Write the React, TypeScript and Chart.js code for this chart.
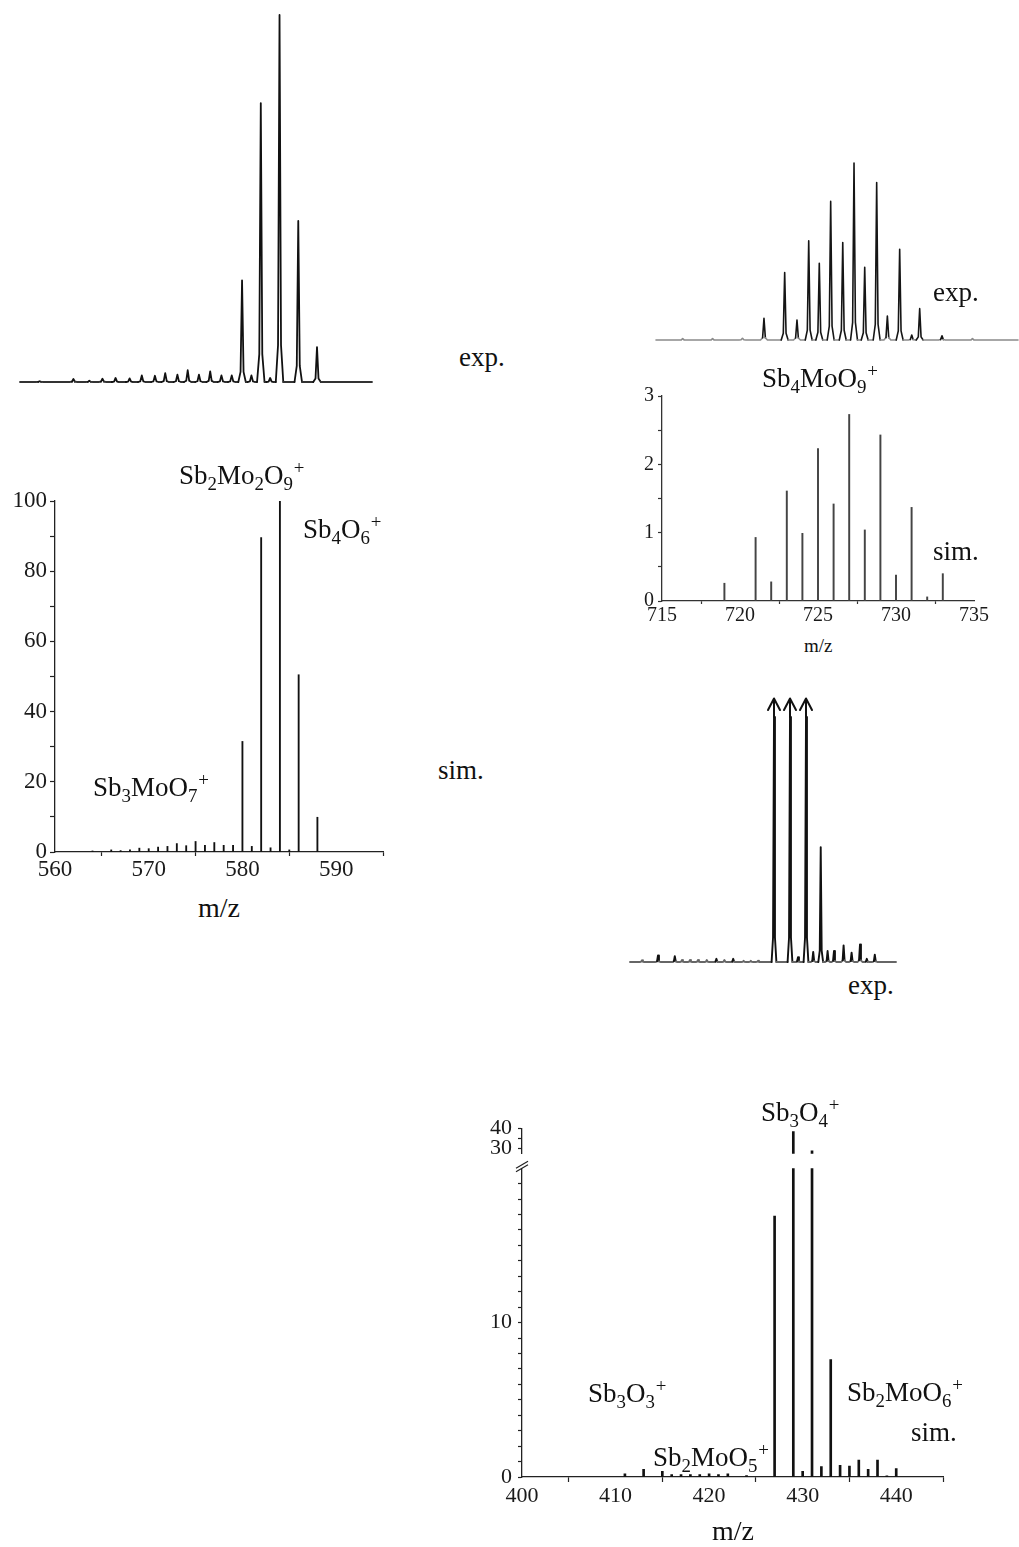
import React, { useEffect, useRef } from 'react';
import { Chart, registerables } from 'chart.js';

Chart.register(...registerables);

const SERIF = '"Liberation Serif", "Times New Roman", Times, serif';

// ---------------- DATA ----------------
// Experimental trace, 556–594 m/z region (relative intensity, %; 584 = 100)
const EXP_A_MZ = [558.4, 562.0, 563.7, 565.1, 566.5, 568.0, 569.3, 570.7, 571.8, 573.1, 574.2, 575.4, 576.6, 577.8, 578.9, 580.0, 581.0, 582.0, 583.0, 584.0, 586.0, 588.0];
const EXP_A_INT = [0.2, 0.8, 0.35, 0.9, 1.1, 1.0, 1.8, 1.7, 2.4, 2.0, 3.2, 2.0, 2.9, 1.8, 1.8, 27.7, 1.8, 76.0, 1.1, 100, 43.9, 9.5];

// Simulated Sb2Mo2O9+ / Sb4O6+ / Sb3MoO7+ pattern
const SIM_A_MZ = [564, 566, 567, 568, 569, 570, 571, 572, 573, 574, 575, 576, 577, 578, 579, 580, 581, 582, 583, 584, 585, 586, 588];
const SIM_A_INT = [0.3, 0.6, 0.4, 0.6, 1.1, 0.95, 1.4, 1.6, 2.4, 1.8, 3.0, 1.9, 2.7, 1.9, 1.9, 31.5, 1.6, 89.6, 1.2, 100, 0.6, 50.5, 9.9];
const SIM_A_X_LABELS = [560, 570, 580, 590];
const SIM_A_Y_LABELS = [0, 20, 40, 60, 80, 100];

// Experimental trace, Sb4MoO9+ region (relative %, 727 = 100)
const EXP_B_MZ = [712.1, 714.7, 717.3, 719.17, 720.97, 722.04, 723.06, 723.98, 724.97, 726.02, 727.0, 727.93, 728.97, 729.9, 730.97, 732.02, 732.71, 734.65, 737.3];
const EXP_B_INT = [0.8, 0.8, 1.0, 12.3, 38.1, 11.3, 56.0, 43.4, 78.3, 55.1, 100, 41.1, 89.0, 13.6, 51.3, 2.8, 17.7, 2.4, 0.8];

// Simulated Sb4MoO9+
const SIM_B_MZ = [719, 721, 722, 723, 724, 725, 726, 727, 728, 729, 730, 731, 732, 733];
const SIM_B_INT = [0.26, 0.93, 0.28, 1.61, 0.99, 2.23, 1.42, 2.73, 1.04, 2.43, 0.38, 1.37, 0.06, 0.4];
const SIM_B_X_LABELS = [715, 720, 725, 730, 735];
const SIM_B_Y_LABELS = [0, 1, 2, 3];

// Experimental trace, 409–442 m/z region (relative %, 100 = off scale, marked by arrows)
const EXP_C_MZ = [410.5, 412.5, 414.6, 415.5, 416.5, 417.5, 418.6, 419.8, 420.8, 421.9, 423.2, 424.1, 425.0, 427.0, 429.0, 430.0, 431.0, 431.9, 432.84, 433.7, 434.5, 435.7, 436.7, 437.75, 438.6, 439.6];
const EXP_C_INT = [0.7, 2.7, 2.4, 0.8, 0.8, 0.8, 0.8, 1.3, 0.8, 1.3, 0.5, 0.5, 0.5, 100, 100, 2.0, 100, 4.1, 46.9, 4.5, 4.5, 6.8, 3.8, 7.2, 1.3, 3.0];

// Simulated Sb3O4+ / Sb3O3+ / Sb2MoO5+ / Sb2MoO6+
const SIM_C_MZ = [411, 413, 415, 416, 417, 418, 419, 420, 421, 422, 424, 427, 429, 430, 431, 432, 433, 434, 435, 436, 437, 438, 439, 440];
const SIM_C_INT = [0.21, 0.5, 0.36, 0.16, 0.16, 0.16, 0.16, 0.21, 0.16, 0.21, 0.1, 16.9, 38.3, 0.36, 28.7, 0.68, 7.6, 0.76, 0.7, 1.1, 0.5, 1.1, 0.08, 0.55];
const SIM_C_X_LABELS = [400, 410, 420, 430, 440];
const SIM_C_Y_LABELS_LOW = [0, 10];
const SIM_C_Y_HIDDEN_LOW = [20];
const SIM_C_Y_LABELS_HIGH = [30, 40];

// ---------------- HELPERS ----------------
type Area = { left: number; top: number; right: number; bottom: number };
type Margin = { l: number; t: number; r: number; b: number };

const CLEAR = 'rgba(0,0,0,0)';

const BASE = {
  responsive: false,
  animation: false as const,
  devicePixelRatio: 1,
  events: [] as any[],
  plugins: { legend: { display: false }, tooltip: { enabled: false }, title: { display: false } },
};

function buildTrace(mz: number[], ints: number[], hw: number, xmin: number, xmax: number) {
  const pts: { x: number; y: number }[] = [{ x: xmin, y: 0 }];
  mz.forEach((m, i) => {
    const h = ints[i];
    pts.push(
      { x: m - hw, y: 0 },
      { x: m - hw * 0.4, y: h * 0.1 },
      { x: m, y: h },
      { x: m + hw * 0.4, y: h * 0.1 },
      { x: m + hw, y: 0 }
    );
  });
  pts.push({ x: xmax, y: 0 });
  return pts;
}

function traceConfig(o: {
  mz: number[]; ints: number[]; hw: number; xmin: number; xmax: number; margin: Margin;
  peak: string; base: string; width: number; thr: number; plugins?: any[];
}) {
  return {
    type: 'line',
    data: {
      datasets: [
        {
          data: buildTrace(o.mz, o.ints, o.hw, o.xmin, o.xmax),
          borderColor: o.peak,
          borderWidth: o.width,
          pointRadius: 0,
          tension: 0,
          borderJoinStyle: 'round',
          borderCapStyle: 'round',
          clip: false,
          segment: {
            borderColor: (c: any) => (Math.max(c.p0.parsed.y, c.p1.parsed.y) < o.thr ? o.base : undefined),
          },
        },
      ],
    },
    options: {
      ...BASE,
      layout: { padding: { left: o.margin.l, right: o.margin.r, top: o.margin.t, bottom: o.margin.b } },
      scales: {
        x: { type: 'linear', display: false, min: o.xmin, max: o.xmax },
        y: { type: 'linear', display: false, min: 0, max: 100 },
      },
    },
    plugins: o.plugins || [],
  };
}

function stickConfig(o: {
  mz: number[]; ints: number[]; margin: Margin;
  xMin: number; xMax: number; xStep: number; xLabels: number[]; showX: boolean;
  yMin: number; yMax: number; yStep: number; yLabels: number[]; yHidden?: number[];
  barW: number; barColor: string; axis: string; fontSize: number;
  xTick: number; yTick: number; xPad: number; yPad: number; plugins?: any[];
}) {
  const font = { family: SERIF, size: o.fontSize };
  const x = o.showX
    ? {
        type: 'linear', min: o.xMin, max: o.xMax, offset: false,
        afterFit: (s: any) => { s.height = o.margin.b; },
        border: { display: true, color: o.axis, width: 1.3 },
        grid: {
          display: true, drawOnChartArea: false, drawTicks: true, offset: false,
          tickLength: o.xTick, tickWidth: 1.2,
          tickColor: (c: any) => (c.tick && o.xLabels.includes(c.tick.value) ? CLEAR : o.axis),
        },
        ticks: {
          stepSize: o.xStep, autoSkip: false, maxRotation: 0, includeBounds: false, padding: o.xPad,
          color: '#1a1a1a', font,
          callback: (v: any) => (o.xLabels.includes(Number(v)) ? String(v) : ''),
        },
      }
    : { type: 'linear', min: o.xMin, max: o.xMax, offset: false, display: false };
  return {
    type: 'bar',
    data: {
      datasets: [
        {
          data: o.mz.map((m, i) => ({ x: m, y: o.ints[i] })),
          backgroundColor: o.barColor,
          borderWidth: 0,
          barThickness: o.barW,
        },
      ],
    },
    options: {
      ...BASE,
      layout: { padding: { left: 0, top: o.margin.t, right: o.margin.r, bottom: o.showX ? 0 : o.margin.b } },
      scales: {
        x,
        y: {
          type: 'linear', min: o.yMin, max: o.yMax,
          afterFit: (s: any) => { s.width = o.margin.l; },
          border: { display: true, color: o.axis, width: 1.3 },
          grid: {
            display: true, drawOnChartArea: false, drawTicks: true,
            tickLength: o.yTick, tickWidth: 1.2,
            tickColor: (c: any) => (c.tick && o.yHidden && o.yHidden.includes(c.tick.value) ? CLEAR : o.axis),
          },
          ticks: {
            stepSize: o.yStep, autoSkip: false, includeBounds: false, padding: o.yPad,
            color: '#1a1a1a', font,
            callback: (v: any) => (o.yLabels.includes(Number(v)) ? String(v) : ''),
          },
        },
      },
    },
    plugins: o.plugins || [],
  };
}

function ChartCanvas({ area, margin, make }: { area: Area; margin: Margin; make: () => any }) {
  const ref = useRef<HTMLCanvasElement>(null);
  useEffect(() => {
    const chart = new Chart(ref.current as HTMLCanvasElement, make());
    return () => chart.destroy();
  }, []);
  const w = area.right - area.left + margin.l + margin.r;
  const h = area.bottom - area.top + margin.t + margin.b;
  return (
    <canvas
      ref={ref}
      width={w}
      height={h}
      style={{ position: 'absolute', left: area.left - margin.l, top: area.top - margin.t, width: w, height: h }}
    />
  );
}

const Sub = ({ c }: { c: string }) => (
  <span style={{ fontSize: '0.7em', position: 'relative', top: '0.3em' }}>{c}</span>
);
const Sup = ({ c }: { c: string }) => (
  <span style={{ fontSize: '0.7em', position: 'relative', top: '-0.55em', marginLeft: '0.04em' }}>{c}</span>
);

function Label({ x, y, size = 27, children }: { x: number; y: number; size?: number; children: any }) {
  return (
    <div
      style={{
        position: 'absolute', left: x, top: y - 0.8375 * size, fontFamily: SERIF, fontSize: size,
        lineHeight: 1, whiteSpace: 'nowrap', color: '#111',
      }}
    >
      {children}
    </div>
  );
}

// arrows for off-scale experimental peaks
const arrowPlugin = {
  id: 'offScaleArrows',
  afterDatasetsDraw(chart: any) {
    const { ctx, scales } = chart;
    const xs = scales.x, ys = scales.y;
    ctx.save();
    ctx.strokeStyle = '#111';
    ctx.lineWidth = 2;
    ctx.lineCap = 'round';
    ctx.lineJoin = 'round';
    EXP_C_MZ.forEach((m, i) => {
      if (EXP_C_INT[i] >= ys.max) {
        const px = xs.getPixelForValue(m);
        const top = ys.getPixelForValue(ys.max);
        ctx.beginPath();
        ctx.moveTo(px, top);
        ctx.lineTo(px, top - 18);
        ctx.stroke();
        ctx.beginPath();
        ctx.moveTo(px - 6, top - 7);
        ctx.lineTo(px, top - 18.5);
        ctx.lineTo(px + 6, top - 7);
        ctx.stroke();
      }
    });
    ctx.restore();
  },
};

const breakPlugin = {
  id: 'axisBreak',
  afterDraw(chart: any) {
    const { ctx, chartArea } = chart;
    const { left, top } = chartArea;
    ctx.save();
    ctx.strokeStyle = '#222';
    ctx.lineWidth = 1.2;
    [0, 3.5].forEach((dy) => {
      ctx.beginPath();
      ctx.moveTo(left - 6, top + dy);
      ctx.lineTo(left + 6, top - 7 + dy);
      ctx.stroke();
    });
    ctx.restore();
  },
};

// ---------------- LAYOUT ----------------
const A_EXP: Area = { left: 20, top: 15, right: 372, bottom: 382 };
const A_EXP_M: Margin = { l: 6, t: 6, r: 6, b: 6 };
const A_SIM: Area = { left: 55, top: 501, right: 383, bottom: 852 };
const A_SIM_M: Margin = { l: 54, t: 20, r: 25, b: 40 };
const B_EXP: Area = { left: 656, top: 163, right: 1018, bottom: 340 };
const B_EXP_M: Margin = { l: 4, t: 6, r: 1, b: 6 };
const B_SIM: Area = { left: 662, top: 396, right: 974, bottom: 601 };
const B_SIM_M: Margin = { l: 40, t: 16, r: 30, b: 30 };
const C_EXP: Area = { left: 630, top: 717, right: 896, bottom: 962 };
const C_EXP_M: Margin = { l: 4, t: 24, r: 6, b: 6 };
const C_LOW: Area = { left: 522, top: 1163, right: 943, bottom: 1477 };
const C_LOW_M: Margin = { l: 45, t: 14, r: 30, b: 35 };
const C_HIGH: Area = { left: 522, top: 1125, right: 943, bottom: 1157 };
const C_HIGH_M: Margin = { l: 45, t: 16, r: 30, b: 16 };

export default function App() {
  return (
    <div style={{ position: 'absolute', left: 0, top: 0, width: 1019, height: 1547, background: '#fff', overflow: 'hidden' }}>
      <ChartCanvas
        area={A_EXP}
        margin={A_EXP_M}
        make={() => traceConfig({ mz: EXP_A_MZ, ints: EXP_A_INT, hw: 0.4, xmin: 556.3, xmax: 593.87, margin: A_EXP_M, peak: '#111', base: '#333', width: 1.8, thr: 0.1 })}
      />
      <ChartCanvas
        area={A_SIM}
        margin={A_SIM_M}
        make={() => stickConfig({
          mz: SIM_A_MZ, ints: SIM_A_INT, margin: A_SIM_M,
          xMin: 560, xMax: 595, xStep: 5, xLabels: SIM_A_X_LABELS, showX: true,
          yMin: 0, yMax: 100, yStep: 10, yLabels: SIM_A_Y_LABELS,
          barW: 1.2, barColor: '#111', axis: '#222', fontSize: 23, xTick: 4, yTick: 5, xPad: 0, yPad: 3,
        })}
      />
      <ChartCanvas
        area={B_EXP}
        margin={B_EXP_M}
        make={() => traceConfig({ mz: EXP_B_MZ, ints: EXP_B_INT, hw: 0.3, xmin: 709.78, xmax: 741.26, margin: B_EXP_M, peak: '#151515', base: '#8a8a8a', width: 1.6, thr: 1.5 })}
      />
      <ChartCanvas
        area={B_SIM}
        margin={B_SIM_M}
        make={() => stickConfig({
          mz: SIM_B_MZ, ints: SIM_B_INT, margin: B_SIM_M,
          xMin: 715, xMax: 735, xStep: 2.5, xLabels: SIM_B_X_LABELS, showX: true,
          yMin: 0, yMax: 3, yStep: 0.5, yLabels: SIM_B_Y_LABELS,
          barW: 1.3, barColor: '#444', axis: '#333', fontSize: 20, xTick: 3, yTick: 4, xPad: 0, yPad: 4,
        })}
      />
      <ChartCanvas
        area={C_EXP}
        margin={C_EXP_M}
        make={() => traceConfig({ mz: EXP_C_MZ, ints: EXP_C_INT, hw: 0.3, xmin: 409.0, xmax: 442.25, margin: C_EXP_M, peak: '#111', base: '#666', width: 1.9, thr: 1.0, plugins: [arrowPlugin] })}
      />
      <ChartCanvas
        area={C_HIGH}
        margin={C_HIGH_M}
        make={() => stickConfig({
          mz: SIM_C_MZ, ints: SIM_C_INT, margin: C_HIGH_M,
          xMin: 400, xMax: 445, xStep: 5, xLabels: SIM_C_X_LABELS, showX: false,
          yMin: 27.2, yMax: 40, yStep: 5, yLabels: SIM_C_Y_LABELS_HIGH,
          barW: 2, barColor: '#111', axis: '#222', fontSize: 22, xTick: 5, yTick: 4, xPad: 1, yPad: 6,
        })}
      />
      <ChartCanvas
        area={C_LOW}
        margin={C_LOW_M}
        make={() => stickConfig({
          mz: SIM_C_MZ, ints: SIM_C_INT, margin: C_LOW_M,
          xMin: 400, xMax: 445, xStep: 5, xLabels: SIM_C_X_LABELS, showX: true,
          yMin: 0, yMax: 20, yStep: 1, yLabels: SIM_C_Y_LABELS_LOW, yHidden: SIM_C_Y_HIDDEN_LOW,
          barW: 2, barColor: '#111', axis: '#222', fontSize: 22, xTick: 5, yTick: 4, xPad: 1, yPad: 6,
          plugins: [breakPlugin],
        })}
      />

      {/* text labels */}
      <Label x={459} y={367}>exp.</Label>
      <Label x={179} y={485}>Sb<Sub c="2" />Mo<Sub c="2" />O<Sub c="9" /><Sup c="+" /></Label>
      <Label x={303} y={539}>Sb<Sub c="4" />O<Sub c="6" /><Sup c="+" /></Label>
      <Label x={93} y={797}>Sb<Sub c="3" />MoO<Sub c="7" /><Sup c="+" /></Label>
      <Label x={438} y={780}>sim.</Label>
      <Label x={198} y={917} size={28}>m/z</Label>

      <Label x={933} y={302}>exp.</Label>
      <Label x={762} y={388}>Sb<Sub c="4" />MoO<Sub c="9" /><Sup c="+" /></Label>
      <Label x={933} y={561}>sim.</Label>
      <Label x={804} y={652} size={19}>m/z</Label>

      <Label x={848} y={995}>exp.</Label>

      <Label x={761} y={1122}>Sb<Sub c="3" />O<Sub c="4" /><Sup c="+" /></Label>
      <Label x={588} y={1403}>Sb<Sub c="3" />O<Sub c="3" /><Sup c="+" /></Label>
      <Label x={653} y={1467}>Sb<Sub c="2" />MoO<Sub c="5" /><Sup c="+" /></Label>
      <Label x={847} y={1402}>Sb<Sub c="2" />MoO<Sub c="6" /><Sup c="+" /></Label>
      <Label x={911} y={1442}>sim.</Label>
      <Label x={712} y={1540} size={28}>m/z</Label>
    </div>
  );
}
